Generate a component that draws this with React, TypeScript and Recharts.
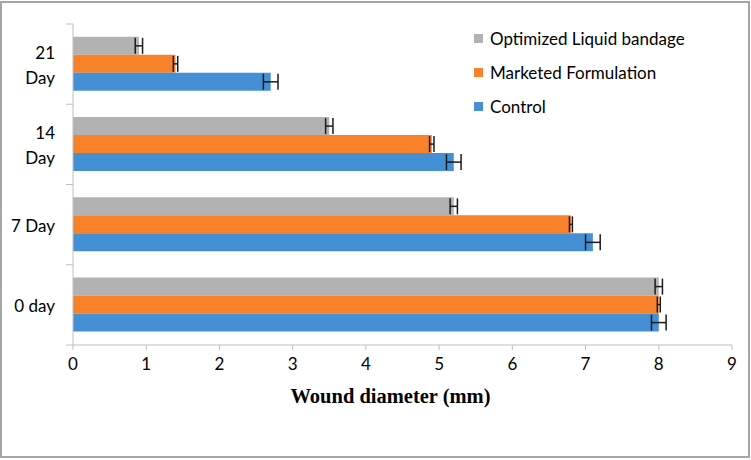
import { Bar, BarChart, ErrorBar, Label, Legend, XAxis, YAxis } from "recharts";

const days = ["21 Day", "14 Day", "7 Day", "0 day"];
const seriesNames = ["Optimized Liquid bandage", "Marketed Formulation", "Control"];
const optimized = [0.9, 3.5, 5.2, 8.0];
const optimizedErr = [0.05, 0.05, 0.05, 0.05];
const marketed = [1.4, 4.9, 6.8, 8.0];
const marketedErr = [0.03, 0.03, 0.02, 0.02];
const control = [2.7, 5.2, 7.1, 8.0];
const controlErr = [0.1, 0.1, 0.1, 0.1];
const xTicks = [0, 1, 2, 3, 4, 5, 6, 7, 8, 9];

const data = days.map((day, i) => ({
  day,
  optimized: optimized[i],
  optimizedErr: optimizedErr[i],
  marketed: marketed[i],
  marketedErr: marketedErr[i],
  control: control[i],
  controlErr: controlErr[i]
}));

const W = 751;
const H = 460;
const PLOT_LEFT = 73;
const PLOT_TOP = 24;
const PLOT_BOTTOM = 345;
const PLOT_RIGHT = 732;
const X_AXIS_H = 60;
const LEGEND_W = 260;
const BAND = (PLOT_BOTTOM - PLOT_TOP) / days.length;
const FONT = "Lato, 'Open Sans', sans-serif";
const AXIS_GRAY = "#bfbfbf";

// Excel-style category axis: ticks sit on the band edges, labels in the middle
function DayTick(props: any) {
  const { y, payload, index } = props;
  const label = String(payload.value);
  const lines = label.length > 5 ? label.split(" ") : [label];
  const lh = 25;
  const y0 = y - ((lines.length - 1) * lh) / 2;
  return (
    <g>
      <line x1={PLOT_LEFT - 7} x2={PLOT_LEFT} y1={y - BAND / 2} y2={y - BAND / 2} stroke={AXIS_GRAY} />
      {index === days.length - 1 && (
        <line x1={PLOT_LEFT - 7} x2={PLOT_LEFT} y1={y + BAND / 2} y2={y + BAND / 2} stroke={AXIS_GRAY} />
      )}
      <text
        x={PLOT_LEFT - 18}
        y={y0}
        textAnchor="end"
        dominantBaseline="central"
        fontFamily={FONT}
        fontSize={17}
        fill="#000"
      >
        {lines.map((l, i) => (
          <tspan key={i} x={PLOT_LEFT - 18} dy={i === 0 ? 0 : lh}>
            {l}
          </tspan>
        ))}
      </text>
    </g>
  );
}

function LegendBox(props: any) {
  const items = [...(props.payload || [])].sort(
    (a: any, b: any) => seriesNames.indexOf(a.value) - seriesNames.indexOf(b.value)
  );
  return (
    <div>
      {items.map((it: any) => (
        <div
          key={it.value}
          style={{ display: "flex", alignItems: "center", height: 34, fontFamily: FONT, fontSize: 17, color: "#000" }}
        >
          <span style={{ width: 9, height: 9, background: it.color, marginRight: 7, display: "inline-block" }} />
          {it.value}
        </div>
      ))}
    </div>
  );
}

export default function App() {
  return (
    <div style={{ position: "absolute", left: 0, top: 0, width: W, height: H, background: "#fff" }}>
      <div
        style={{
          position: "absolute",
          left: 0,
          top: 1,
          width: 750,
          height: 457,
          border: "2px solid #a6a6a6",
          boxSizing: "border-box",
          pointerEvents: "none"
        }}
      />
      <BarChart
        width={W}
        height={H}
        data={data}
        layout="vertical"
        barCategoryGap="16%"
        barGap={0}
        margin={{
          top: PLOT_TOP,
          right: W - PLOT_RIGHT - LEGEND_W,
          bottom: H - PLOT_BOTTOM - X_AXIS_H,
          left: 0
        }}
      >
        <XAxis
          type="number"
          domain={[0, 9]}
          ticks={xTicks}
          interval={0}
          height={X_AXIS_H}
          axisLine={{ stroke: AXIS_GRAY }}
          tickLine={{ stroke: AXIS_GRAY }}
          tickSize={5}
          tickMargin={8}
          tick={{ fontFamily: FONT, fontSize: 17, fill: "#000" }}
        >
          <Label
            value="Wound diameter (mm)"
            position="insideBottom"
            offset={2}
            dx={-12}
            style={{ fontFamily: "'Liberation Serif', serif", fontWeight: "bold", fontSize: 20.5, fill: "#000" }}
          />
        </XAxis>
        <YAxis
          type="category"
          dataKey="day"
          width={PLOT_LEFT}
          axisLine={{ stroke: AXIS_GRAY }}
          tickLine={false}
          tick={<DayTick />}
          interval={0}
        />
        <Legend
          layout="vertical"
          verticalAlign="top"
          align="right"
          content={<LegendBox />}
          wrapperStyle={{ left: 474, top: 21, width: LEGEND_W, height: 110 }}
        />
        <Bar dataKey="optimized" name={seriesNames[0]} fill="#b2b2b2" isAnimationActive={false}>
          <ErrorBar dataKey="optimizedErr" direction="x" width={8} stroke="#1a1a1a" strokeWidth={1.5} />
        </Bar>
        <Bar dataKey="marketed" name={seriesNames[1]} fill="#f7822a" isAnimationActive={false}>
          <ErrorBar dataKey="marketedErr" direction="x" width={8} stroke="#1a1a1a" strokeWidth={1.5} />
        </Bar>
        <Bar dataKey="control" name={seriesNames[2]} fill="#4590d4" isAnimationActive={false}>
          <ErrorBar dataKey="controlErr" direction="x" width={8} stroke="#1a1a1a" strokeWidth={1.5} />
        </Bar>
      </BarChart>
    </div>
  );
}
